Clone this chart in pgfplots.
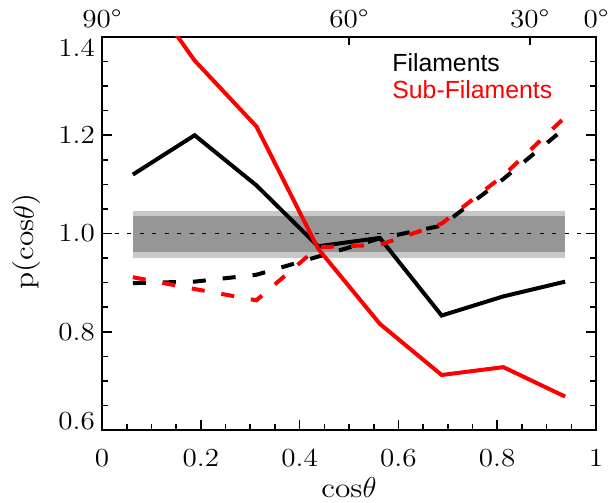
\documentclass[border=0pt]{standalone}
\usepackage{fontspec}
\setmainfont{Latin Modern Roman}[FakeStretch=1.12]
\newfontfamily\legendfont{Liberation Sans}
\usepackage{pgfplots}
\pgfplotsset{compat=1.18}
\definecolor{bandlight}{RGB}{200,200,200}
\definecolor{banddark}{RGB}{150,150,150}

\begin{document}
\begin{tikzpicture}
\useasboundingbox (-51pt,-36pt) rectangle (253pt,215pt);
% degree scale along the top
\begin{axis}[
    scale only axis, width=247pt, height=196.5pt,
    xmin=0, xmax=1, ymin=0.6, ymax=1.4,
    hide y axis,
    axis line style={line width=1pt},
    xtick pos=upper, xticklabel pos=upper,
    xtick={0,0.5,0.866,1}, xticklabels={90°,60°,30°,0°},
    tick align=inside, major tick length=4pt,
    every tick/.style={black, line width=0.8pt},
    tick label style={font=\fontsize{13}{15}\selectfont},
    xticklabel style={yshift=1pt},
]
\end{axis}
\begin{axis}[
    scale only axis, width=247pt, height=196.5pt,
    xmin=0, xmax=1, ymin=0.6, ymax=1.4,
    axis line style={line width=1pt},
    xtick={0,0.2,0.4,0.6,0.8,1}, xticklabels={0,0.2,0.4,0.6,0.8,1},
    ytick={0.6,0.8,1.0,1.2,1.4},
    yticklabels={\smash{\raisebox{0.2pt}{0.6}},0.8,1.0,1.2,\smash{\raisebox{-9.5pt}{1.4}}},
    minor x tick num=3, minor y tick num=3,
    xtick pos=lower, ytick pos=both, yticklabel pos=left,
    tick align=inside,
    major tick length=5pt, minor tick length=3pt,
    every tick/.style={black, line width=0.8pt},
    tick label style={font=\fontsize{13}{15}\selectfont},
    xticklabel style={yshift=-6pt},
    xlabel={cos$\theta$}, ylabel={p(cos$\theta$)},
    label style={font=\fontsize{14}{16}\selectfont},
    xlabel style={at={(axis description cs:0.5,-0.147)}, anchor=center},
    ylabel style={at={(axis description cs:-0.152,0.48)}, anchor=center},
]
\addplot[fill=bandlight, draw=none] coordinates {(0.0625,0.951) (0.9375,0.951) (0.9375,1.046) (0.0625,1.046)} -- cycle;
\addplot[fill=banddark, draw=none] coordinates {(0.0625,0.963) (0.9375,0.963) (0.9375,1.035) (0.0625,1.035)} -- cycle;
\addplot[black, line width=0.5pt, dash pattern=on 2pt off 4.25pt] coordinates {(0,1) (1,1)};

% Filaments
\addplot[black, line width=2pt] coordinates {
    (0.0625,1.120) (0.1875,1.200) (0.3125,1.098) (0.4375,0.974)
    (0.5625,0.991) (0.6875,0.833) (0.8125,0.872) (0.9375,0.902)};
\addplot[black, line width=2pt, dash pattern=on 6.5pt off 8.5pt] coordinates {
    (0.0625,0.899) (0.1875,0.902) (0.3125,0.916) (0.4375,0.953)
    (0.5625,0.990) (0.6875,1.016) (0.8125,1.111) (0.9375,1.215)};
% Sub-Filaments
\addplot[red, line width=2pt] coordinates {
    (0.0625,1.530) (0.1875,1.352) (0.3125,1.218) (0.4375,0.969)
    (0.5625,0.816) (0.6875,0.712) (0.8125,0.728) (0.9375,0.668)};
\addplot[red, line width=2pt, dash pattern=on 6.5pt off 8.5pt] coordinates {
    (0.0625,0.911) (0.1875,0.887) (0.3125,0.864) (0.4375,0.972)
    (0.5625,0.977) (0.6875,1.020) (0.8125,1.118) (0.9375,1.237)};

\node[anchor=base west, inner sep=0, font=\legendfont\fontsize{12.4}{14}\selectfont, black] at (axis cs:0.587,1.329) {Filaments};
\node[anchor=base west, inner sep=0, font=\legendfont\fontsize{12.4}{14}\selectfont, red] at (axis cs:0.587,1.275) {Sub-Filaments};
\end{axis}
\end{tikzpicture}
\end{document}
